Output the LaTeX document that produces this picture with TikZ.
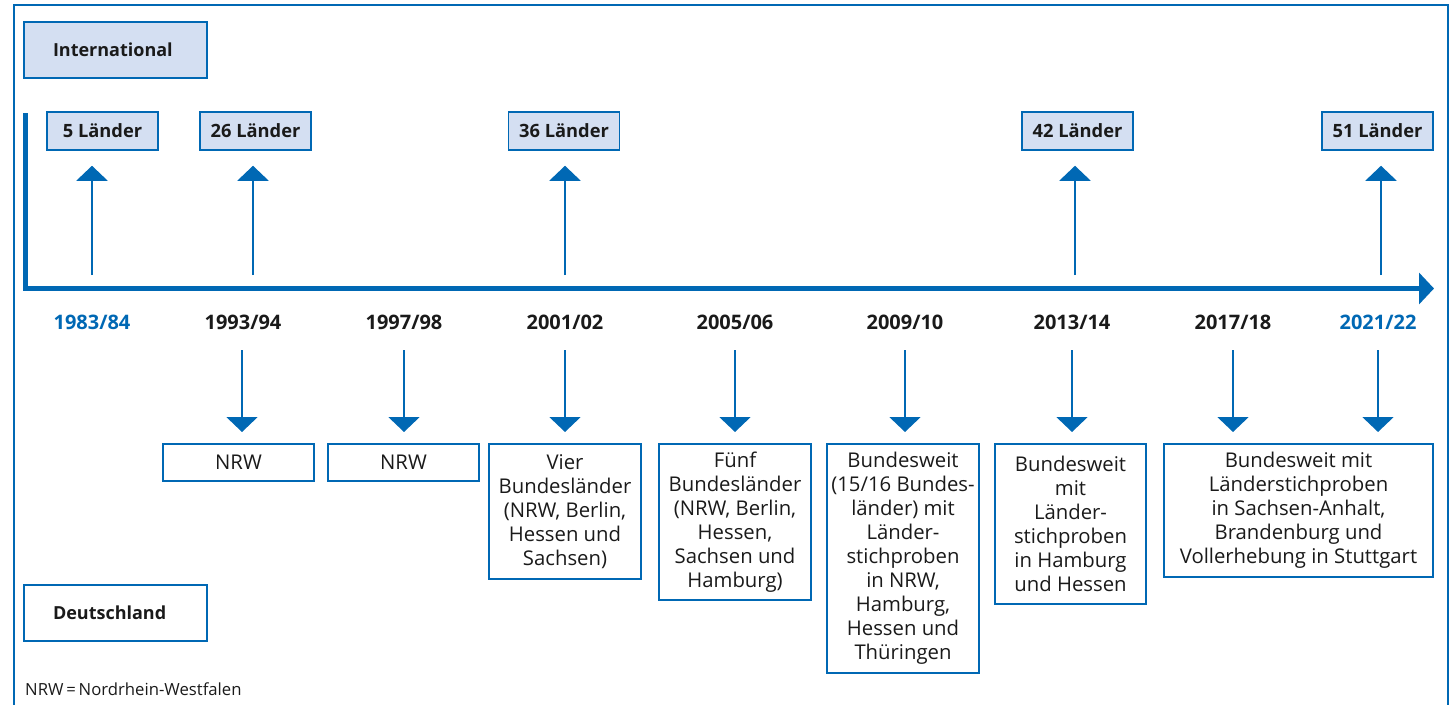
\documentclass[tikz,border=0pt]{standalone}
\usepackage{fontspec}
\setmainfont{Open Sans}
\usetikzlibrary{arrows.meta}
\definecolor{ibblue}{RGB}{0,104,180}
\definecolor{ibfill}{RGB}{212,223,242}
\definecolor{ibtext}{RGB}{26,26,26}
\begin{document}
\begin{tikzpicture}[x=1pt,y=-1pt,
  box/.style={draw=ibblue, line width=1.5pt, inner sep=0pt, text=ibtext},
  topbox/.style={box, fill=ibfill, minimum height=38pt, minimum width=111pt,
    font=\bfseries\fontsize{18.3}{22}\selectfont},
  sidebox/.style={box, minimum height=56pt, inner xsep=29pt, text width=125pt,
    align=left, font=\bfseries\fontsize{18}{22}\selectfont},
  year/.style={font=\bfseries\fontsize{20}{22}\selectfont, text=ibtext},
  lowbox/.style={box, fill=white, align=center, anchor=north,
    font=\fontsize{20.3}{24}\selectfont},
  uparrow/.style={draw=ibblue, line width=2.2pt, shorten >=15pt,
    -{Triangle[width=31pt,length=15pt]}},
  downarrow/.style={draw=ibblue, line width=2.2pt, shorten >=11pt,
    -{Triangle[width=31pt,length=15pt]}},
  axis/.style={draw=ibblue, line width=5pt, miter limit=10,
    -{Triangle[width=31pt,length=15pt]}}
]
\useasboundingbox (0,0) rectangle (1450,704);
% outer frame
\draw[ibblue, line width=1.5pt] (14,720) -- (14,5) -- (1448,5) -- (1448,720);

% legend boxes
\node[sidebox, fill=ibfill, minimum width=183pt] (intl) at (115.5,50) {International};
\node[sidebox, fill=white, minimum width=183pt] (de) at (115.5,613) {Deutschland};

% axis
\coordinate (axtop) at (25,113);
\coordinate (axcorner) at (25,288.5);
\coordinate (axend) at (1434,288.5);
\draw[axis] (axtop) -- (axcorner) -- (axend);

% top boxes
\node[topbox] (l5)  at (102.5,131) {5 Länder};
\node[topbox] (l26) at (255.5,131) {26 Länder};
\node[topbox] (l36) at (564,131)   {36 Länder};
\node[topbox] (l42) at (1077.5,131){42 Länder};
\node[topbox] (l51) at (1377.5,131){51 Länder};

% up arrows
\coordinate (u1) at (92,275);
\coordinate (u2) at (253,275);
\coordinate (u3) at (565,275);
\coordinate (u4) at (1075,275);
\coordinate (u5) at (1381,275);
\draw[uparrow] (u1) -- (u1 |- l5.south);
\draw[uparrow] (u2) -- (u2 |- l26.south);
\draw[uparrow] (u3) -- (u3 |- l36.south);
\draw[uparrow] (u4) -- (u4 |- l42.south);
\draw[uparrow] (u5) -- (u5 |- l51.south);

% years
\node[year, text=ibblue] (y1) at (92,322) {1983/84};
\node[year] (y2) at (243,322) {1993/94};
\node[year] (y3) at (404,322) {1997/98};
\node[year] (y4) at (565,322) {2001/02};
\node[year] (y5) at (735,322) {2005/06};
\node[year] (y6) at (905,322) {2009/10};
\node[year] (y7) at (1072,322) {2013/14};
\node[year] (y8) at (1233,322) {2017/18};
\node[year, text=ibblue] (y9) at (1378,322) {2021/22};

% bottom boxes
\node[lowbox, minimum width=151pt, minimum height=37pt] (b1) at (238.5,443) {NRW};
\node[lowbox, minimum width=151pt, minimum height=37pt] (b2) at (403.5,443) {NRW};
\node[lowbox, minimum width=152pt, minimum height=135pt] (b3) at (565,443)
  {Vier\\Bundesländer\\(NRW, Berlin,\\Hessen und\\Sachsen)};
\node[lowbox, minimum width=152pt, minimum height=156pt] (b4) at (735,443)
  {Fünf\\Bundesländer\\(NRW, Berlin,\\Hessen,\\Sachsen und\\Hamburg)};
\node[lowbox, minimum width=152pt, minimum height=229pt] (b5) at (903,443)
  {Bundesweit\\(15/16 Bundes-\\länder) mit\\Länder-\\stichproben\\in NRW,\\Hamburg,\\Hessen und\\Thüringen};
\node[lowbox, minimum width=151pt, minimum height=160pt] (b6) at (1070.5,443)
  {Bundesweit\\mit\\Länder-\\stichproben\\in Hamburg\\und Hessen};
\node[lowbox, minimum width=269pt, minimum height=133pt] (b7) at (1298.5,443)
  {Bundesweit mit\\Länderstichproben\\in Sachsen-Anhalt,\\Brandenburg und\\Vollerhebung in Stuttgart};

% down arrows
\coordinate (d1) at (242,350);
\coordinate (d2) at (404,350);
\coordinate (d3) at (565,350);
\coordinate (d4) at (735,350);
\coordinate (d5) at (905,350);
\coordinate (d6) at (1072,350);
\coordinate (d7) at (1233,350);
\coordinate (d8) at (1378,350);
\draw[downarrow] (d1) -- (d1 |- b1.north);
\draw[downarrow] (d2) -- (d2 |- b2.north);
\draw[downarrow] (d3) -- (d3 |- b3.north);
\draw[downarrow] (d4) -- (d4 |- b4.north);
\draw[downarrow] (d5) -- (d5 |- b5.north);
\draw[downarrow] (d6) -- (d6 |- b6.north);
\draw[downarrow] (d7) -- (d7 |- b7.north);
\draw[downarrow] (d8) -- (d8 |- b7.north);

% footnote
\node[anchor=west, inner sep=0pt, text=ibtext, font=\fontsize{16.7}{19}\selectfont] (fn) at (25,689) {NRW\,=\,Nordrhein-Westfalen};
\end{tikzpicture}
\end{document}
